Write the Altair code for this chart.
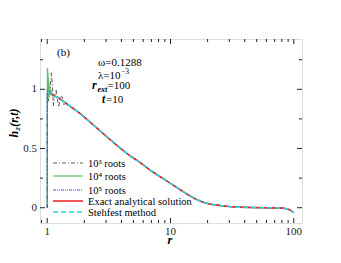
import altair as alt
import pandas as pd

SERIF = "Liberation Serif"

# ---------------- data ----------------
r_exact = [1.0, 1.1, 1.25, 1.5, 1.75, 2.0, 2.65, 3.0, 3.5, 4.0, 4.64, 5.59, 7.0, 8.0, 9.19,
           10.0, 12.0, 14.0, 16.0, 18.2, 21.0, 25.6, 30.0, 36.0, 45.0, 60.0, 70.0, 80.0,
           87.0, 92.0, 96.0, 100.0]
h_exact = [0.975, 0.955, 0.925, 0.865, 0.815, 0.765, 0.655, 0.605, 0.545, 0.495, 0.443, 0.386,
           0.31, 0.27, 0.231, 0.205, 0.152, 0.107, 0.073, 0.048, 0.03, 0.018, 0.01, 0.005, 0.002,
           0.0, -0.001, -0.003, -0.008, -0.016, -0.028, -0.042]

# 10^3 roots: oscillations near r = 1
r_1e3 = [1.0, 1.0, 1.02, 1.05, 1.08, 1.1, 1.12, 1.15, 1.18, 1.21, 1.24, 1.28, 1.32, 1.36, 1.4,
         1.45, 1.5, 1.6]
h_1e3 = [0.0, 0.95, 0.9, 0.95, 1.14, 1.05, 0.86, 0.95, 1.0, 0.92, 0.85, 0.93, 0.94, 0.87, 0.88,
         0.87, 0.86, 0.84]

# 10^4 roots: fast oscillations near r = 1
r_1e4 = [1.0, 1.003, 1.006, 1.009, 1.012, 1.015, 1.018, 1.021, 1.024, 1.027, 1.030, 1.035,
         1.040, 1.045, 1.050, 1.056, 1.062, 1.068, 1.075, 1.082, 1.09, 1.1, 1.12]
h_1e4 = [0.0, 1.18, 0.88, 1.17, 0.90, 1.14, 0.92, 1.10, 0.93, 1.08, 0.94, 1.05, 0.95, 1.03,
         0.95, 1.01, 0.95, 0.99, 0.96, 0.98, 0.955, 0.955, 0.95]

# 10^5 roots
r_1e5 = [1.0, 1.0, 1.005, 1.01, 1.02, 1.04]
h_1e5 = [0.0, 0.97, 1.0, 0.96, 0.975, 0.968]

x_major = [1, 10, 100]
x_major_labels = ["1", "10", "100"]
x_minor = [0.9, 2, 3, 4, 5, 6, 7, 8, 9, 20, 30, 40, 50, 60, 70, 80, 90]
y_major = [0, 0.5, 1]
y_major_labels = ["0", "0.5", "1"]
y_minor = [0.25, 0.75, 1.25]

legend_labels = ["10³ roots", "10⁴ roots", "10⁵ roots", "Exact analytical solution", "Stehfest method"]

# ---------------- layout ----------------
W, H = 262, 184
OX, OY = 40, 39  # plot origin on the page
XDOM = [0.874, 116.6]
YDOM = [-0.129, 1.425]

xs = alt.Scale(type="log", domain=XDOM, nice=False, zero=False)
ys = alt.Scale(domain=YDOM, nice=False, zero=False)


def series_df(rr, hh):
    return pd.DataFrame({"r": rr, "h": hh, "o": list(range(len(rr)))})


def extend(rr, hh):
    last = rr[-1]
    r2 = list(rr) + [r for r in r_exact if r > last]
    h2 = list(hh) + [h for r, h in zip(r_exact, h_exact) if r > last]
    return series_df(r2, h2)


def line(df, color, width, dash=None, opacity=1.0):
    kw = dict(color=color, strokeWidth=width, opacity=opacity, clip=True)
    if dash:
        kw["strokeDash"] = dash
    return alt.Chart(df).mark_line(**kw).encode(
        x=alt.X("r:Q", scale=xs, axis=None),
        y=alt.Y("h:Q", scale=ys, axis=None),
        order="o:Q")


one = pd.DataFrame({"a": [0]})


def txt(s, px, py, size=11, style="normal", weight="normal", angle=0, align="left", baseline="alphabetic"):
    return alt.Chart(one).mark_text(text=s, font=SERIF, fontSize=size, fontStyle=style, fontWeight=weight,
                                    angle=angle, align=align, baseline=baseline, color="black").encode(
        x=alt.value(px - OX), y=alt.value(py - OY))


layers = []
layers.append(line(extend(r_1e3, h_1e3), "#333333", 0.8, dash=[4, 2, 1, 2]))
layers.append(line(extend(r_1e4, h_1e4), "#3fa63f", 1.3, opacity=0.75))
layers.append(line(extend(r_1e5, h_1e5), "#3344ff", 1.0, dash=[3, 1, 1, 1, 1, 1]))
layers.append(line(series_df(r_exact, h_exact), "#ee2222", 1.6))
layers.append(line(series_df(r_exact, h_exact), "#22d8ee", 1.6, dash=[5, 3]))


# inward ticks
def xticks(vals, length):
    d = pd.DataFrame({"t": vals})
    b = alt.Chart(d).mark_rule(color="#222", strokeWidth=1).encode(
        x=alt.X("t:Q", scale=xs, axis=None), y=alt.value(H), y2=alt.value(H - length))
    t = alt.Chart(d).mark_rule(color="#222", strokeWidth=1).encode(
        x=alt.X("t:Q", scale=xs, axis=None), y=alt.value(0), y2=alt.value(length))
    return [b, t]


def yticks(vals, length):
    d = pd.DataFrame({"t": vals})
    l = alt.Chart(d).mark_rule(color="#222", strokeWidth=1).encode(
        y=alt.Y("t:Q", scale=ys, axis=None), x=alt.value(0), x2=alt.value(length))
    r = alt.Chart(d).mark_rule(color="#222", strokeWidth=1).encode(
        y=alt.Y("t:Q", scale=ys, axis=None), x=alt.value(W), x2=alt.value(W - length))
    return [l, r]


layers += xticks(x_major, 5) + xticks(x_minor, 3) + yticks(y_major, 5) + yticks(y_minor, 3)

# tick labels
xl = pd.DataFrame({"t": x_major, "lab": x_major_labels})
layers.append(alt.Chart(xl).mark_text(font=SERIF, fontSize=11, color="#222", baseline="top", align="center").encode(
    x=alt.X("t:Q", scale=xs, axis=None), y=alt.value(H + 2.5), text="lab:N"))
yl = pd.DataFrame({"t": y_major, "lab": y_major_labels})
layers.append(alt.Chart(yl).mark_text(font=SERIF, fontSize=11, color="#222", baseline="middle", align="right").encode(
    y=alt.Y("t:Q", scale=ys, axis=None), x=alt.value(-3), text="lab:N"))

# legend (drawn manually)
leg_colors = ["#333333", "#7fcc7f", "#4455ff", "#ee2222", "#22d8ee"]
leg_dash = [[4, 2, 1, 2], [1, 0], [3, 1, 1, 1, 1, 1], [1, 0], [5, 3]]
leg_width = [0.8, 1.5, 1.0, 1.6, 1.6]
leg_y = [163, 176, 190, 201, 212]
for lab, c, d, w, yy in zip(legend_labels, leg_colors, leg_dash, leg_width, leg_y):
    layers.append(alt.Chart(one).mark_rule(color=c, strokeDash=d, strokeWidth=w).encode(
        x=alt.value(53 - OX), x2=alt.value(83 - OX), y=alt.value(yy - OY)))
    layers.append(txt(lab, 88, yy + 4, size=10.5))

# annotations
layers.append(txt("(b)", 57, 56, size=11))
layers.append(txt("ω=0.1288", 98, 66, size=11))
layers.append(txt("λ=10", 98, 79, size=11))
layers.append(txt("−3", 121, 73.5, size=7.5))
layers.append(txt("r", 92, 89, size=12, style="italic", weight="bold"))
layers.append(txt("ext", 97.5, 91.5, size=8, style="italic", weight="bold"))
layers.append(txt("=100", 107.5, 89, size=11))
layers.append(txt("t", 102, 103, size=11.5, style="italic", weight="bold"))
layers.append(txt("=10", 106, 103, size=11))

# axis titles
layers.append(txt("h₂(r,t)", 14, 123, size=12, style="italic", weight="bold", angle=270,
                  align="center", baseline="middle"))
layers.append(txt("r", 170, 244, size=12.5, style="italic", weight="bold", align="center"))

chart = alt.layer(*layers).properties(
    width=W, height=H,
    autosize=alt.AutoSizeParams(type="none"),
    padding={"left": OX - 8, "top": OY - 8, "right": 25, "bottom": 30},
).configure_view(stroke="#222", strokeWidth=1.6).configure(background="white")

chart.save("out.html", embed_options={"renderer": "svg", "actions": False})
